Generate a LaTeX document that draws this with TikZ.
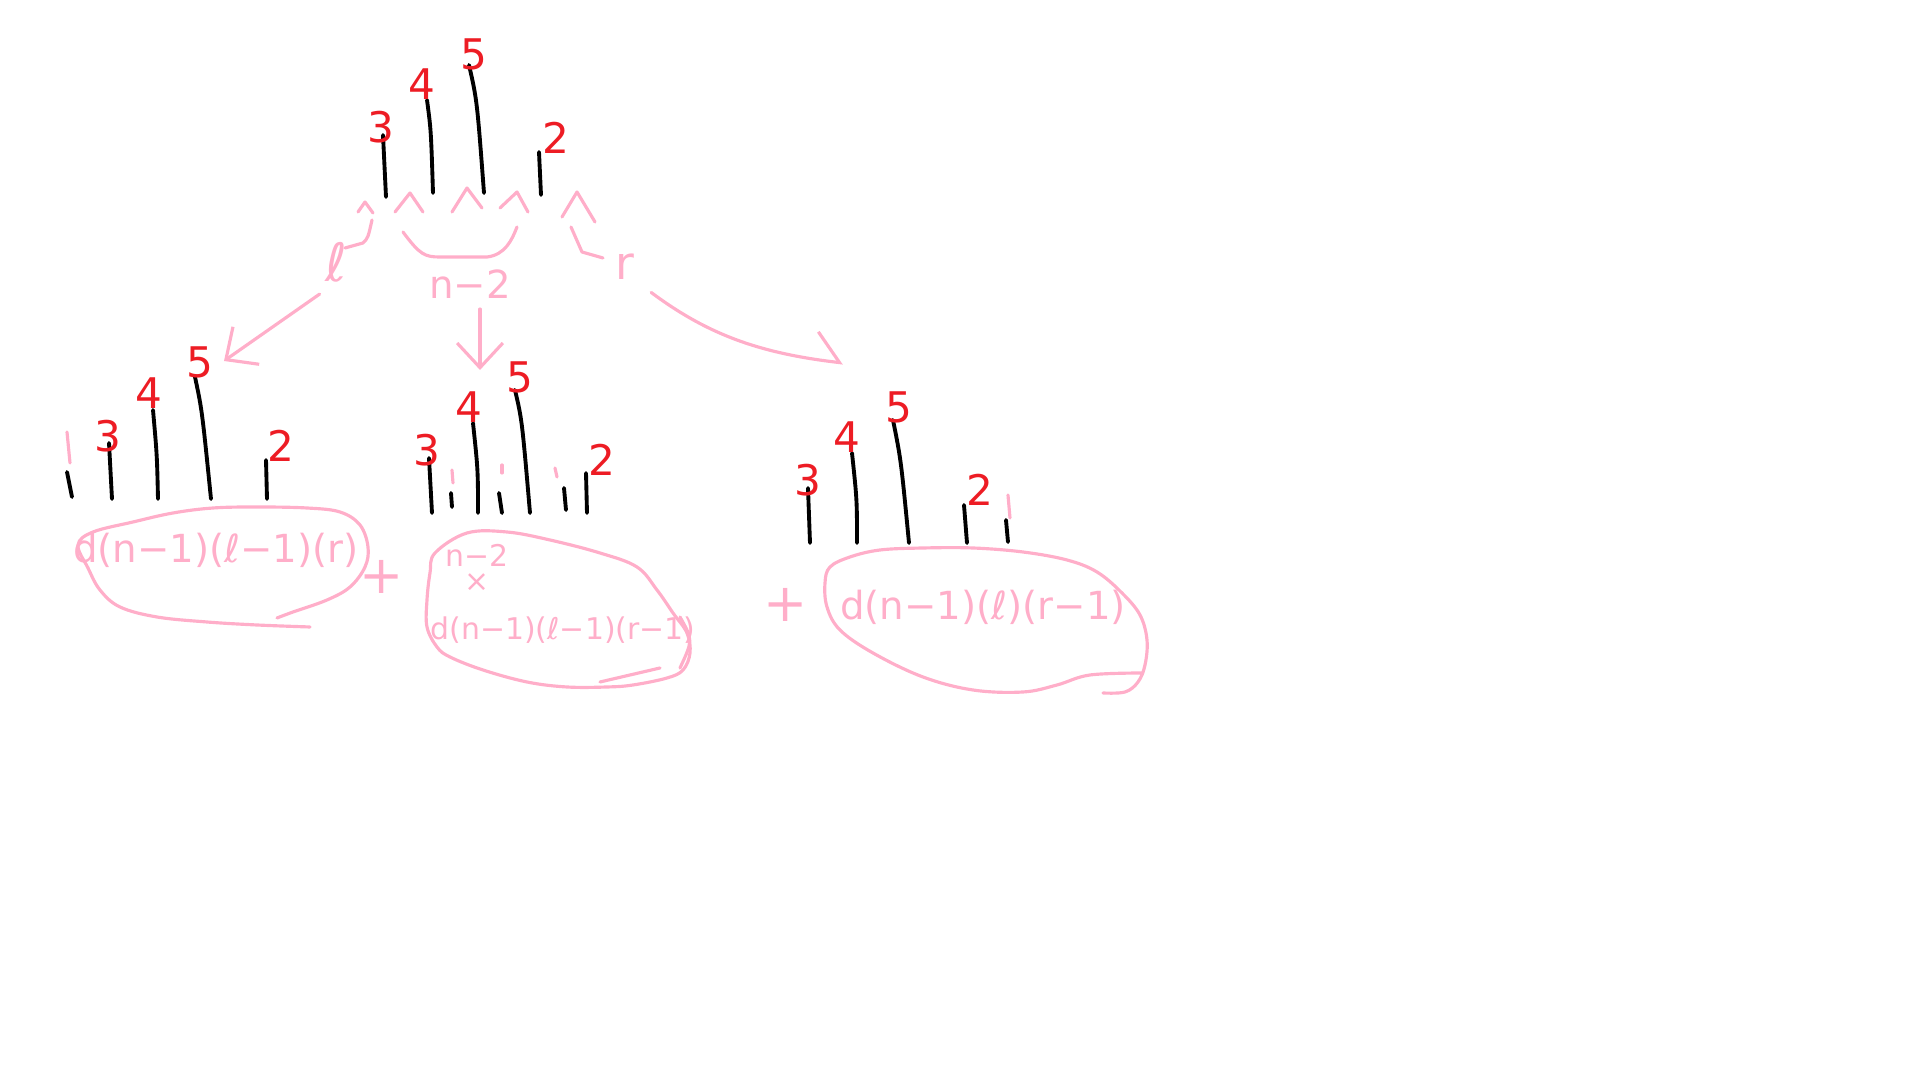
\documentclass[tikz,border=0pt]{standalone}
\usepackage{fontspec}
\setmainfont{DejaVu Sans}
\usepackage{xcolor}
\usepackage{tikz}
\definecolor{sketchred}{RGB}{237, 28, 36}
\definecolor{sketchpink}{RGB}{255, 174, 201}
\usetikzlibrary{arrows.meta}

\begin{document}
\begin{tikzpicture}[
        x=0.01cm, y=-0.01cm,
        every node/.style={inner sep=0pt},
        num/.style={text=sketchred, font=\fontsize{12}{12}\selectfont},
        note/.style={text=sketchpink, font=\fontsize{11}{13}\selectfont},
        small note/.style={text=sketchpink, font=\fontsize{8.5}{10}\selectfont},
        plus/.style={text=sketchpink, font=\fontsize{15}{15}\selectfont},
        stick/.style={line width=1.1pt, black, line cap=round},
        pen/.style={line width=0.9pt, sketchpink, line cap=round, line join=round},
        arrow/.style={pen, -{Straight Barb[length=7pt, width=13pt]}},
        half arrow/.style={pen, -{Straight Barb[harpoon, length=7pt, width=16pt]}}
    ]
        \useasboundingbox (0,0) rectangle (1920,1080);

        % Top row
        \draw[stick] (383,135) -- (386,197);
        \draw[stick] (427,100) .. controls (431,130) .. (433,193);
        \draw[stick] (469,65) .. controls (477,100) .. (484,193);
        \draw[stick] (539,152) -- (541,195);
        \node[num] (t3) at (381,127) {3};
        \node[num] (t4) at (422,84) {4};
        \node[num] (t5) at (474,54) {5};
        \node[num] (t2) at (556,138) {2};

        % Gaps
        \draw[pen] (358,212) -- (365,202) -- (373,213);
        \draw[pen] (395,212) -- (410,193) -- (423,212);
        \draw[pen] (452,212) -- (467,188) -- (482,208);
        \draw[pen] (500,208) -- (517,192) -- (528,212);
        \draw[pen] (562,217) -- (577,192) -- (595,222);
        \draw[pen] (372,220) .. controls (368,238) .. (363,243) -- (345,248);
        \draw[pen] (403,232) .. controls (420,255) and (425,257) .. (440,257) -- (487,257)
            .. controls (505,255) and (512,240) .. (517,227);
        \draw[pen] (571,227) -- (582,252) -- (603,258);

        \node[note, font=\fontsize{15}{15}\selectfont] (ell) at (336,262) {ℓ};
        \node[note] (nlab) at (470,284) {n−2};
        \node[note, font=\fontsize{13}{13}\selectfont] (rlab) at (625,267) {r};

        % Moves
        \coordinate (ltip) at (224,361);
        \coordinate (mtip) at (480,370);
        \coordinate (rtip) at (843,363);
        \draw[arrow, shorten <=0.2cm] (ell.south) -- (ltip);
        \draw[arrow, shorten <=0.1cm] (nlab.south -| mtip) -- (mtip);
        \draw[half arrow, shorten <=0.2cm] (rlab.south east) to[bend right=15] (rtip);

        % Left case
        \draw[pen] (67,432) -- (70,463);
        \draw[stick] (67,472) -- (72,497);
        \draw[stick] (109,443) -- (112,499);
        \draw[stick] (153,410) .. controls (157,455) .. (158,499);
        \draw[stick] (195,377) .. controls (202,410) .. (211,499);
        \draw[stick] (266,460) -- (267,499);
        \node[num] (a3) at (108,436) {3};
        \node[num] (a4) at (149,393) {4};
        \node[num] (a5) at (200,362) {5};
        \node[num] (a2) at (281,446) {2};

        \draw[pen] plot[smooth, tension=0.6] coordinates {(310,627) (257,625) (207,622) (157,617)
            (120,607) (100,590) (88,568) (78,545) (93,532) (133,522) (173,513) (213,508) (257,507)
            (307,508) (340,512) (360,525) (368,547) (365,567) (350,587) (327,600) (293,612) (277,618)};
        \node[note] (lexpr) at (216,550) {d(n−1)(ℓ−1)(r)};
        \node[plus] (plus1) at (382,577) {+};

        % Middle case
        \draw[pen] (452,470) -- (453,483);
        \draw[pen] (502,465) -- (502,473);
        \draw[pen] (555,468) -- (557,477);
        \draw[stick] (451,493) -- (452,507);
        \draw[stick] (499,493) -- (502,513);
        \draw[stick] (564,488) -- (566,510);
        \draw[stick] (429,458) -- (432,513);
        \draw[stick] (473,423) .. controls (478,470) .. (478,513);
        \draw[stick] (515,390) .. controls (522,420) .. (530,513);
        \draw[stick] (586,473) -- (587,513);
        \node[num] (b3) at (427,450) {3};
        \node[num] (b4) at (469,407) {4};
        \node[num] (b5) at (520,377) {5};
        \node[num] (b2) at (602,460) {2};

        \draw[pen] plot[smooth cycle, tension=0.6] coordinates {(435,553) (467,533) (507,532)
            (550,540) (600,553) (637,567) (657,590) (673,613) (687,633) (690,653) (683,670)
            (667,678) (633,685) (607,687) (567,687) (527,682) (483,670) (450,657) (437,647)
            (427,627) (427,600) (430,573)};
        \draw[pen] (680,617) .. controls (693,640) .. (680,668);
        \draw[pen] (600,682) -- (660,668);
        \node[small note] (mn) at (477,555) {n−2};
        \node[small note] (mx) at (477,583) {×};
        \node[small note] (mexpr) at (563,630) {d(n−1)(ℓ−1)(r−1)};
        \node[plus] (plus2) at (786,605) {+};

        % Right case
        \draw[stick] (808,488) -- (810,543);
        \draw[stick] (852,453) .. controls (857,500) .. (857,543);
        \draw[stick] (893,420) .. controls (901,460) .. (909,543);
        \draw[stick] (964,505) -- (967,543);
        \draw[pen] (1008,495) -- (1010,518);
        \draw[stick] (1006,520) -- (1008,542);
        \node[num] (c3) at (808,480) {3};
        \node[num] (c4) at (847,437) {4};
        \node[num] (c5) at (899,407) {5};
        \node[num] (c2) at (980,490) {2};

        \draw[pen] plot[smooth, tension=0.6] coordinates {(1143,673) (1090,675) (1057,685)
            (1023,692) (973,690) (923,677) (873,653) (840,630) (827,607) (825,583) (830,567)
            (850,557) (880,550) (923,548) (973,548) (1023,552) (1067,560) (1097,572) (1122,593)
            (1140,615) (1147,640) (1145,665) (1138,682) (1125,692) (1103,693)};
        \node[note] (rexpr) at (983,607) {d(n−1)(ℓ)(r−1)};

    \end{tikzpicture}
\end{document}
